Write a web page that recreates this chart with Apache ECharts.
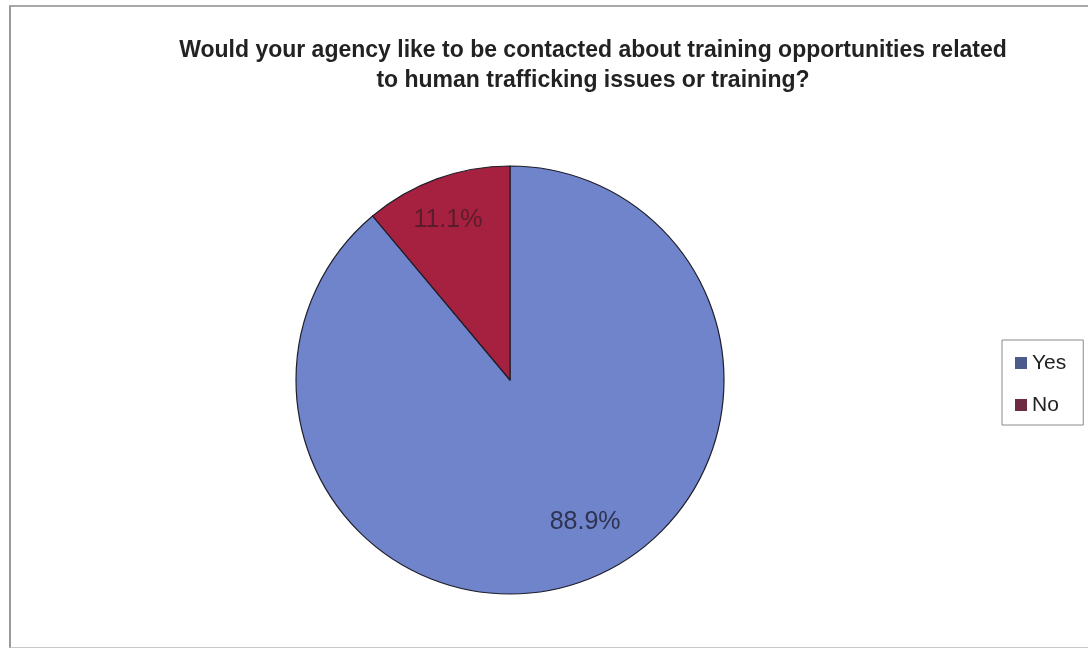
<!DOCTYPE html>
<html lang="en">
<head>
    <meta charset="UTF-8">
    <title>Training contact</title>
    <script src="https://cdn.jsdelivr.net/npm/echarts@6/dist/echarts.min.js"></script>
    <style>
        html, body { margin: 0; padding: 0; background: #fff; }
        #frame {
            position: absolute; left: 9px; top: 5px; width: 1090px; height: 640px;
            border-left: 2px solid #9a9a9a; border-top: 2px solid #a8a8a8; border-bottom: 1px solid #c8c8c8;
        }
        #myChart { position: absolute; left: 0; top: 0; width: 1088px; height: 649px; }
    </style>
</head>
<body>
<div id="frame"></div>
<div id="myChart"></div>
<script>
    const categories = ["Yes", "No"];
    const values = [88.9, 11.1];
    const colors = ["#7084cb", "#a6213f"];
    const legendColors = ["#4d5b8c", "#6e2a42"];
    const labelColors = ["#2d3350", "#5a1c2c"];
    const labelOffsets = [[17, -18], [-4, 0]];

    const pieData = categories.map((name, i) => ({
        name: name,
        value: values[i],
        itemStyle: { color: colors[i] }
    }));
    const labelData = categories.map((name, i) => ({
        name: name,
        value: values[i],
        itemStyle: { color: "transparent", borderWidth: 0 },
        label: { color: labelColors[i], offset: labelOffsets[i] }
    }));

    const option = {
        animation: false,
        title: {
            text: "Would your agency like to be contacted about training opportunities related\nto human trafficking issues or training?",
            left: 588,
            top: 31,
            textAlign: "center",
            textStyle: {
                fontFamily: "Liberation Sans, Arial, sans-serif",
                fontSize: 23,
                fontWeight: "bold",
                color: "#222",
                lineHeight: 30
            }
        },
        legend: {
            orient: "vertical",
            left: 1002,
            top: 340,
            padding: [12, 17, 9, 13],
            itemGap: 20,
            itemWidth: 12,
            itemHeight: 12,
            icon: "rect",
            borderColor: "#8a8a8a",
            borderWidth: 1,
            selectedMode: false,
            data: categories.map((name, i) => ({
                name: name,
                itemStyle: { color: legendColors[i], borderWidth: 0 }
            })),
            textStyle: {
                fontFamily: "Liberation Sans, Arial, sans-serif",
                fontSize: 21,
                lineHeight: 22,
                color: "#222"
            }
        },
        series: [{
            type: "pie",
            center: [510, 380],
            radius: [0, 214],
            startAngle: 90,
            clockwise: true,
            silent: true,
            label: { show: false },
            labelLine: { show: false },
            itemStyle: { borderColor: "#1e1e2a", borderWidth: 1.2 },
            data: pieData
        }, {
            type: "pie",
            center: [510, 380],
            radius: [0, 334],
            startAngle: 90,
            clockwise: true,
            silent: true,
            labelLine: { show: false },
            label: {
                show: true,
                position: "inside",
                formatter: p => p.value.toFixed(1) + "%",
                fontFamily: "Liberation Sans, Arial, sans-serif",
                fontSize: 25
            },
            data: labelData
        }]
    };
    const myChart = echarts.init(document.getElementById("myChart"));
    myChart.setOption(option);
</script>
</body>
</html>
